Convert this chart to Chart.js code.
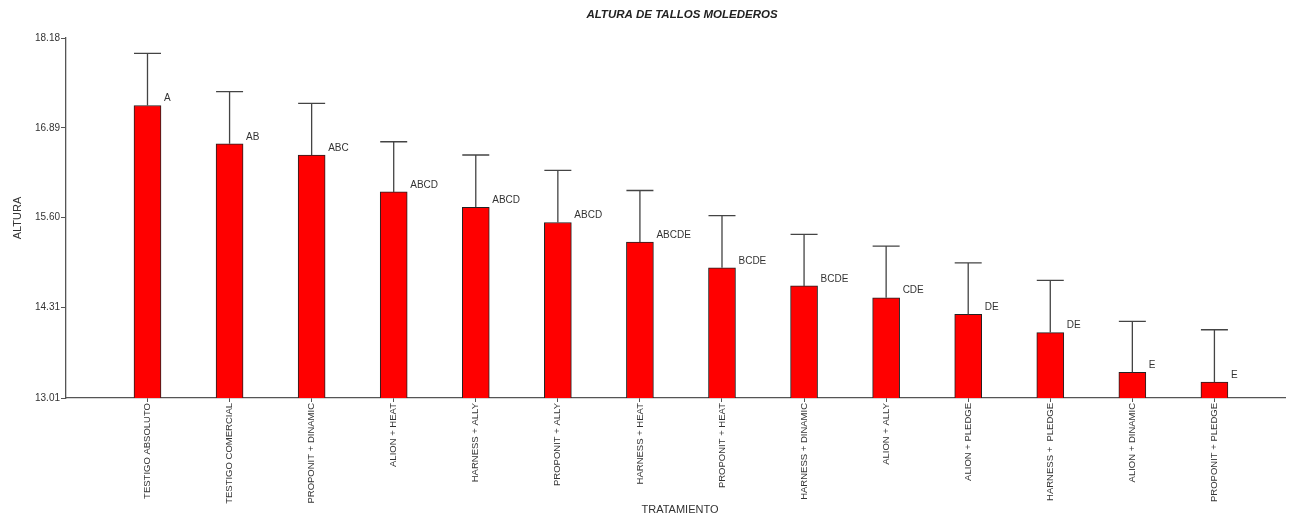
<!DOCTYPE html>
<html>
<head>
<meta charset="utf-8">
<script src="https://cdn.jsdelivr.net/npm/chart.js@4"></script>
<style>
  body { margin: 0; background: #fff; }
  #wrap { width: 1290px; height: 516px; position: relative; }
</style>
</head>
<body>
<div id="wrap"><canvas id="chart"></canvas></div>
<script>
// Altura de tallos molederos - mean per treatment with error bar and Tukey letters

const categories = [
    'TESTIGO ABSOLUTO', 'TESTIGO COMERCIAL', 'PROPONIT + DINAMIC', 'ALION + HEAT',
    'HARNESS + ALLY', 'PROPONIT + ALLY', 'HARNESS + HEAT', 'PROPONIT + HEAT',
    'HARNESS + DINAMIC', 'ALION + ALLY', 'ALION + PLEDGE', 'HARNESS +  PLEDGE',
    'ALION + DINAMIC', 'PROPONIT + PLEDGE'
];
const means = [17.21, 16.66, 16.50, 15.97, 15.75, 15.53, 15.25, 14.88, 14.62, 14.45, 14.21, 13.95, 13.38, 13.24];
const errors = [0.75, 0.75, 0.74, 0.72, 0.75, 0.75, 0.74, 0.75, 0.74, 0.74, 0.74, 0.75, 0.73, 0.75];
const letters = ['A', 'AB', 'ABC', 'ABCD', 'ABCD', 'ABCD', 'ABCDE', 'BCDE', 'BCDE', 'CDE', 'DE', 'DE', 'E', 'E'];
const yTicks = [13.01, 14.31, 15.60, 16.89, 18.18];

const FONT = 'Liberation Sans, Arial, sans-serif';
const TEXT = '#333';
const AXIS = '#555';

// Error bars and group letters
const errorBarPlugin = {
    id: 'errorBars',
    afterDatasetsDraw(chart) {
        const ctx = chart.ctx;
        const meta = chart.getDatasetMeta(0);
        const y = chart.scales.y;
        ctx.save();
        meta.data.forEach((bar, i) => {
            const top = y.getPixelForValue(means[i]);
            const hi = y.getPixelForValue(means[i] + errors[i]);
            const half = bar.width / 2;
            ctx.strokeStyle = '#444';
            ctx.lineWidth = 1.3;
            ctx.beginPath();
            ctx.moveTo(bar.x, top);
            ctx.lineTo(bar.x, hi);
            ctx.moveTo(bar.x - half, hi);
            ctx.lineTo(bar.x + half, hi);
            ctx.stroke();

            ctx.fillStyle = TEXT;
            ctx.font = '10px ' + FONT;
            ctx.textAlign = 'left';
            ctx.textBaseline = 'middle';
            ctx.fillText(letters[i], bar.x + half + 3, top - 7);
        });
        ctx.restore();
    }
};

// Title and axis titles
const labelsPlugin = {
    id: 'labels',
    afterDraw(chart) {
        const ctx = chart.ctx;
        ctx.save();
        ctx.fillStyle = '#222';
        ctx.textAlign = 'center';
        ctx.textBaseline = 'middle';
        ctx.font = 'italic bold 11.5px ' + FONT;
        ctx.fillText('ALTURA DE TALLOS MOLEDEROS', 682, 15);

        ctx.fillStyle = TEXT;
        ctx.font = '11px ' + FONT;
        ctx.fillText('TRATAMIENTO', 680, 510);

        ctx.translate(18, 218);
        ctx.rotate(-Math.PI / 2);
        ctx.fillText('ALTURA', 0, 0);
        ctx.restore();
    }
};

const ctx = document.getElementById('chart').getContext('2d');
new Chart(ctx, {
    type: 'bar',
    data: {
        datasets: [{
            data: means.map((v, i) => ({ x: i, y: v })),
            backgroundColor: '#FF0000',
            borderColor: '#222',
            borderWidth: 1,
            barThickness: 27
        }]
    },
    options: {
        responsive: true,
        maintainAspectRatio: false,
        animation: false,
        layout: { padding: { top: 38, right: 5, left: 0, bottom: 0 } },
        plugins: {
            legend: { display: false },
            tooltip: { enabled: false }
        },
        scales: {
            x: {
                type: 'linear',
                offset: false,
                min: -0.993,
                max: 13.86,
                afterBuildTicks: scale => {
                    scale.ticks = categories.map((c, i) => ({ value: i }));
                },
                afterFit: scale => { scale.height = 118; },
                grid: { offset: false, drawOnChartArea: false, tickLength: 4, color: AXIS },
                border: { color: AXIS, width: 1.3 },
                ticks: {
                    autoSkip: false,
                    minRotation: 90,
                    maxRotation: 90,
                    padding: 1,
                    color: TEXT,
                    font: { family: FONT, size: 9.5 },
                    callback: value => categories[value]
                }
            },
            y: {
                min: 13.01,
                max: 18.18,
                afterBuildTicks: scale => {
                    scale.ticks = yTicks.map(v => ({ value: v }));
                },
                afterFit: scale => { scale.width = 66; },
                grid: { drawOnChartArea: false, tickLength: 5, color: AXIS },
                border: { color: AXIS, width: 1.3 },
                ticks: {
                    padding: 1,
                    color: TEXT,
                    font: { family: FONT, size: 10 },
                    callback: value => Number(value).toFixed(2)
                }
            }
        }
    },
    plugins: [errorBarPlugin, labelsPlugin]
});
</script>
</body>
</html>
